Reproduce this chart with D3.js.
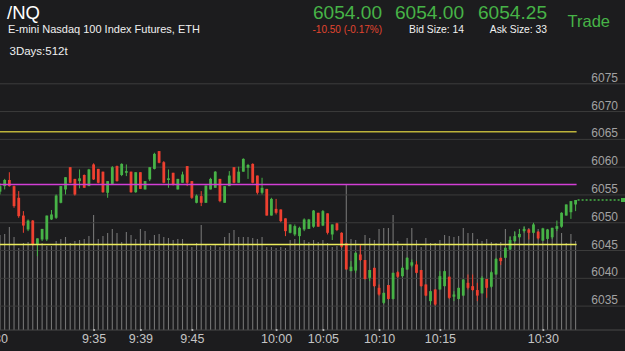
<!DOCTYPE html>
<html><head><meta charset="utf-8">
<script src="https://cdn.jsdelivr.net/npm/d3@7"></script>
<style>html,body{margin:0;padding:0;background:#1c1c1e;overflow:hidden}</style>
</head><body><svg id="c" width="625" height="351"></svg>
<script>
// ---- data ----
const opens = [6055.5,6056.5,6057.6,6056.5,6054.4,6051.2,6048.7,6050.3,6046.0,6046.9,6046.9,6050.5,6050.8,6053.5,6055.9,6059.9,6057.8,6057.4,6058.5,6056.5,
6060.4,6059.6,6059.1,6055.3,6056.9,6060.1,6058.5,6058.9,6059.1,6055.4,6059.0,6055.9,6057.7,6059.6,6062.8,6060.8,6057.6,6058.9,6055.9,6057.1,
6060.1,6057.4,6053.5,6054.7,6053.5,6055.9,6056.2,6057.8,6053.5,6056.5,6059.9,6057.1,6059.1,6059.8,6060.5,6058.4,6055.3,6056.0,6051.2,6052.4,
6052.3,6050.7,6048.1,6047.8,6047.5,6048.7,6048.8,6049.2,6051.7,6049.4,6051.6,6047.8,6049.8,6048.1,6046.2,6041.2,6041.3,6044.2,6043.2,6040.0,
6041.8,6038.2,6035.5,6038.7,6036.2,6041.0,6040.3,6041.5,6042.2,6042.4,6041.4,6038.8,6035.8,6037.9,6037.9,6038.5,6040.2,6036.6,6036.2,6036.8,
6039.1,6038.5,6037.8,6037.2,6039.8,6038.4,6040.6,6043.6,6043.6,6045.1,6046.6,6047.3,6048.4,6048.7,6048.1,6048.3,6046.7,6047.0,6047.3,6048.8,
6049.2,6051.2,6051.8,6053.2];
const highs = [6057.0,6057.8,6059.0,6056.6,6055.6,6052.0,6050.5,6050.4,6047.1,6048.8,6051.2,6052.2,6055.0,6056.5,6058.1,6059.9,6057.8,6059.5,6058.6,6059.6,
6060.6,6059.6,6059.1,6057.4,6060.1,6060.2,6060.6,6060.4,6059.1,6059.0,6059.0,6057.4,6059.9,6062.5,6062.8,6061.0,6059.5,6058.9,6057.8,6059.1,
6060.1,6057.4,6055.0,6055.6,6056.6,6058.0,6059.2,6057.8,6056.5,6059.2,6059.9,6060.0,6061.5,6060.5,6060.6,6058.4,6058.0,6056.0,6054.4,6054.2,
6052.3,6050.7,6049.6,6049.6,6049.2,6050.7,6050.6,6052.2,6051.7,6052.2,6051.6,6049.6,6049.9,6048.2,6046.2,6043.0,6044.6,6045.9,6043.2,6041.4,
6041.8,6038.8,6037.3,6038.7,6040.9,6041.2,6042.0,6043.7,6043.3,6043.0,6041.4,6038.8,6037.6,6037.9,6041.2,6041.3,6040.2,6037.6,6038.2,6039.7,
6040.6,6040.6,6039.1,6040.3,6039.8,6041.2,6043.6,6043.6,6045.5,6047.5,6048.4,6048.8,6049.3,6048.8,6049.9,6048.4,6049.0,6048.8,6049.0,6050.3,
6051.8,6053.2,6053.8,6054.0];
const lows = [6055.0,6055.9,6056.4,6052.6,6050.8,6048.1,6048.4,6045.8,6043.9,6046.6,6046.6,6050.4,6050.6,6053.4,6055.0,6057.0,6054.8,6056.1,6056.2,6056.5,
6057.6,6057.0,6055.3,6054.4,6056.8,6057.3,6058.3,6058.3,6055.3,6055.3,6056.0,6055.9,6057.4,6059.5,6060.6,6057.0,6056.2,6056.6,6055.9,6057.1,
6056.5,6054.2,6053.4,6052.9,6053.5,6055.9,6056.2,6053.6,6053.5,6056.5,6057.0,6057.1,6059.1,6057.8,6057.0,6055.0,6055.0,6051.2,6051.2,6051.4,
6050.0,6047.5,6048.0,6047.5,6046.1,6048.4,6048.8,6049.0,6049.2,6049.3,6047.8,6046.8,6048.4,6045.4,6041.5,6041.2,6040.9,6043.0,6039.7,6039.4,
6038.3,6036.8,6035.3,6036.1,6036.1,6040.0,6040.1,6041.4,6041.9,6040.8,6038.4,6036.7,6035.2,6035.0,6037.9,6038.4,6036.2,6035.8,6036.1,6036.7,
6037.9,6037.6,6035.8,6037.2,6036.4,6038.2,6040.6,6042.3,6043.6,6045.0,6046.4,6047.1,6048.1,6046.9,6048.0,6046.9,6046.6,6046.9,6047.0,6048.4,
6049.0,6051.2,6050.6,6052.0];
const closes = [6056.5,6057.6,6056.5,6052.9,6051.1,6049.4,6050.3,6046.0,6047.1,6048.8,6051.2,6051.4,6054.8,6056.5,6058.1,6057.1,6055.0,6057.9,6056.2,6059.5,
6057.7,6057.1,6055.4,6057.4,6059.9,6057.4,6060.5,6059.2,6055.4,6059.0,6056.0,6057.4,6059.9,6062.3,6060.7,6057.1,6057.9,6056.8,6057.8,6058.6,
6057.1,6054.4,6054.8,6053.5,6056.6,6057.8,6059.1,6053.8,6056.5,6058.4,6057.1,6059.1,6061.4,6060.3,6057.1,6055.3,6056.2,6051.2,6054.2,6051.7,
6050.2,6048.4,6049.6,6049.3,6049.0,6050.5,6050.5,6052.1,6049.2,6052.0,6048.1,6049.6,6048.6,6045.6,6041.5,6042.0,6044.5,6043.2,6039.8,6041.4,
6038.5,6037.0,6037.3,6036.2,6040.9,6040.2,6041.8,6043.6,6042.8,6040.9,6038.5,6036.8,6037.6,6035.2,6040.3,6041.2,6036.4,6037.0,6038.2,6039.7,
6038.2,6037.8,6036.8,6040.0,6038.2,6041.0,6043.4,6043.0,6045.4,6046.8,6047.5,6047.9,6048.8,6048.1,6049.6,6047.1,6048.9,6048.7,6049.0,6049.3,
6051.7,6053.2,6053.8,6054.0];
const volumes = [950,960,1030,930,820,870,880,850,900,870,840,840,890,910,930,870,890,900,910,940,
1150,910,940,970,1010,970,880,980,950,910,1010,990,900,950,960,930,920,900,910,910,
850,830,870,1050,860,840,860,830,930,970,1000,930,930,930,920,910,930,830,830,820,
830,820,900,910,910,900,880,900,880,900,870,830,840,830,1450,910,900,840,950,920,
900,1010,1020,1020,1150,890,840,920,1020,900,830,920,870,870,900,950,940,930,940,1020,
970,970,910,890,910,880,870,880,1010,930,980,1010,1030,1020,1060,1010,1010,1000,1010,1010,
970,870,960,890];
const priceTicks = [6035,6040,6045,6050,6055,6060,6065,6070,6075];
const timeLabels = ["9:30","9:35","9:39","9:45","10:00","10:05","10:10","10:15","10:30"];
const timeIndex  = [-1,20,30,41,59,69,81,94,116];
const studyLevels = [6066.3,6056.8,6046.0];
const lastPrice = 6054.00;

// ---- drawing ----
const W=625,H=351;
const svg=d3.select("#c");
const FONT='"Liberation Sans",Arial,Helvetica,sans-serif';
const GREEN="#47b347", RED="#ee4030";
const n=closes.length;
const x=d3.scaleLinear().domain([0,n-1]).range([0,575.6]);
const y=d3.scaleLinear().domain([6035,6075]).range([305.6,83.3]);
const axisY=330;
const v=d3.scaleLinear().domain([0,2000]).range([axisY,axisY-200]);

svg.append("rect").attr("width",W).attr("height",H).attr("fill","#1c1c1e");

// volume bars
svg.append("g").selectAll("line").data(volumes).join("line")
  .attr("x1",(d,i)=>x(i)).attr("x2",(d,i)=>x(i))
  .attr("y1",axisY).attr("y2",d=>v(d))
  .attr("stroke","#747474").attr("stroke-width",1.1);

// grid lines
const yAxis=d3.axisRight(y).tickValues(priceTicks).tickSize(W).tickFormat(d3.format("d"));
const gy=svg.append("g").call(yAxis);
gy.select(".domain").remove();
gy.selectAll(".tick line").attr("stroke","#3c3c3c").attr("stroke-width",1);
gy.selectAll(".tick text").attr("x",618).attr("dy",-2).attr("text-anchor","end")
  .attr("dominant-baseline","auto")
  .attr("fill","#a2a2a2").style("font-family",FONT).style("font-size","12px");

// x axis
const xAxis=d3.axisBottom(x).tickValues(timeIndex).tickSize(0).tickFormat((d,i)=>timeLabels[i]);
const gx=svg.append("g").attr("transform",`translate(0,${axisY})`).call(xAxis);
gx.select(".domain").attr("stroke","#484848").attr("d",`M0,0H${W}`);
gx.selectAll(".tick text").attr("y",13).attr("dy",0).attr("fill","#c4c4c4")
  .style("font-family",FONT).style("font-size","12.5px");
gx.selectAll(".tick").append("circle").attr("r",1.1).attr("fill","#bdbdbd");

// candles
const cg=svg.append("g");
const idx=d3.range(n);
cg.selectAll("line").data(idx).join("line")
  .attr("x1",i=>x(i)).attr("x2",i=>x(i))
  .attr("y1",i=>y(highs[i])).attr("y2",i=>y(lows[i]))
  .attr("stroke",i=>closes[i]>=opens[i]?GREEN:RED).attr("stroke-width",1);
cg.selectAll("rect").data(idx).join("rect")
  .attr("x",i=>x(i)-1.4).attr("width",2.8)
  .attr("y",i=>y(Math.max(opens[i],closes[i])))
  .attr("height",i=>Math.max(1,Math.abs(y(opens[i])-y(closes[i]))))
  .attr("fill",i=>closes[i]>=opens[i]?GREEN:RED);

// study lines
const studyColors=["#bdb33a","#d23fd6","#ecec5c"];
svg.append("g").selectAll("line").data(studyLevels).join("line")
  .attr("x1",0).attr("x2",x(n-1)+1)
  .attr("y1",d=>y(d)).attr("y2",d=>y(d))
  .attr("stroke",(d,i)=>studyColors[i]).attr("stroke-width",1.5);

// last price
svg.append("line").attr("x1",x(n-1)+2).attr("x2",621).attr("y1",y(lastPrice)).attr("y2",y(lastPrice))
  .attr("stroke",GREEN).attr("stroke-width",1.3).attr("stroke-dasharray","2,2");
svg.append("rect").attr("x",621).attr("y",y(lastPrice)-2).attr("width",4).attr("height",4).attr("fill",GREEN);

// header
const t=(tx,ty,s,opt)=>svg.append("text").attr("x",tx).attr("y",ty).text(s)
  .style("font-family",FONT).style("font-size",opt.size+"px").attr("fill",opt.fill)
  .attr("text-anchor",opt.anchor||"start");
t(7,18.5,"/NQ",{size:18.5,fill:"#ffffff"});
t(8,32.5,"E-mini Nasdaq 100 Index Futures, ETH",{size:11,fill:"#f0f0f0"});
t(9.5,55,"3Days:512t",{size:11.5,fill:"#f0f0f0"});
const big=(xr,s)=>t(xr,18.5,s,{size:17.5,fill:GREEN,anchor:"end"}).attr("textLength",69).attr("lengthAdjust","spacingAndGlyphs");
big(382,"6054.00"); big(464,"6054.00"); big(547,"6054.25");
t(382,32.5,"-10.50 (-0.17%)",{size:10,fill:"#e2452f",anchor:"end"});
t(464,32.5,"Bid Size: 14",{size:10.3,fill:"#f0f0f0",anchor:"end"});
t(547,32.5,"Ask Size: 33",{size:10.3,fill:"#f0f0f0",anchor:"end"});
t(610,26.5,"Trade",{size:16.5,fill:GREEN,anchor:"end"});
</script></body></html>
